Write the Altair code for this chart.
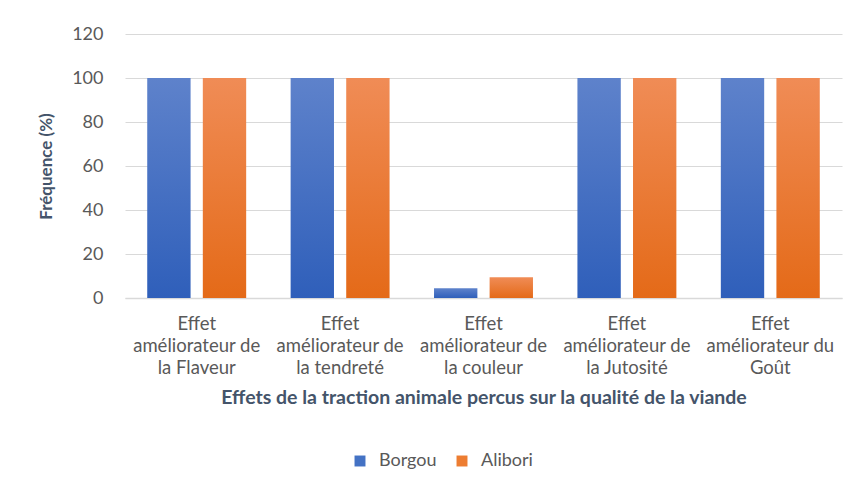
import altair as alt
import pandas as pd

categories = [
    "Effet|améliorateur de|la Flaveur",
    "Effet|améliorateur de|la tendreté",
    "Effet|améliorateur de|la couleur",
    "Effet|améliorateur de|la Jutosité",
    "Effet|améliorateur du|Goût",
]
series = ["Borgou", "Alibori"]
borgou = [100, 100, 4.4, 100, 100]
alibori = [100, 100, 9.4, 100, 100]
y_ticks = [0, 20, 40, 60, 80, 100, 120]

rows = []
for c, b, a in zip(categories, borgou, alibori):
    rows.append({"cat": c, "serie": "Borgou", "val": b})
    rows.append({"cat": c, "serie": "Alibori", "val": a})
df = pd.DataFrame(rows)

FONT = "Lato"
TXT = "#595959"
TITLE = "#44546A"

blue_grad = alt.Gradient(gradient="linear", x1=0, x2=0, y1=0, y2=1,
                         stops=[alt.GradientStop(color="#5E82CB", offset=0),
                                alt.GradientStop(color="#2F5FBA", offset=1)])
orange_grad = alt.Gradient(gradient="linear", x1=0, x2=0, y1=0, y2=1,
                           stops=[alt.GradientStop(color="#F08C56", offset=0),
                                  alt.GradientStop(color="#E46A18", offset=1)])

x_enc = alt.X("cat:N", sort=categories,
              scale=alt.Scale(paddingInner=0.31, paddingOuter=0.155),
              axis=alt.Axis(title="Effets de la traction animale percus sur la qualité de la viande",
                            labelExpr="split(datum.label, '|')", labelAngle=0,
                            labelFont=FONT, labelFontSize=18.5, labelColor=TXT,
                            labelLineHeight=22, labelPadding=16, ticks=False,
                            domainColor="#D9D9D9", domainWidth=1.5,
                            titleFont=FONT, titleFontSize=19.5, titleFontWeight="bold",
                            titleColor=TITLE, titlePadding=12))
y_enc = alt.Y("val:Q", scale=alt.Scale(domain=[0, 120]),
              axis=alt.Axis(title="Fréquence (%)", values=y_ticks, domain=False, ticks=False,
                            labelFont=FONT, labelFontSize=18, labelColor=TXT, labelPadding=22,
                            gridColor="#D9D9D9", gridWidth=1.2,
                            titleFont=FONT, titleFontSize=17, titleFontWeight="bold",
                            titleColor=TITLE, titlePadding=16))
xo = alt.XOffset("serie:N", sort=series,
                 scale=alt.Scale(domain=series, paddingInner=0.22))
color = alt.Color("serie:N", sort=series,
                  scale=alt.Scale(domain=series, range=["#4472C4", "#ED7D31"]),
                  legend=alt.Legend(title=None, orient="none", direction="horizontal",
                                    legendX=226, legendY=418,
                                    symbolType="square", symbolSize=120, symbolStrokeWidth=0,
                                    labelFont=FONT, labelFontSize=18, labelColor=TXT,
                                    labelOffset=10, columnPadding=16))

base = alt.Chart(df)
b1 = base.transform_filter(alt.datum.serie == "Borgou").mark_bar(fill=blue_grad).encode(
    x=x_enc, y=y_enc, xOffset=xo, color=color)
b2 = base.transform_filter(alt.datum.serie == "Alibori").mark_bar(fill=orange_grad).encode(
    x=x_enc, y=y_enc, xOffset=xo, color=color)

chart = alt.layer(b1, b2).properties(
    width=717, height=264,
    autosize=alt.AutoSizeParams(type="none"),
    padding={"left": 117, "top": 26, "right": 5, "bottom": 180},
    background="white",
).configure_view(stroke=None)

chart.save("out.html", embed_options={"renderer": "svg", "actions": False})
